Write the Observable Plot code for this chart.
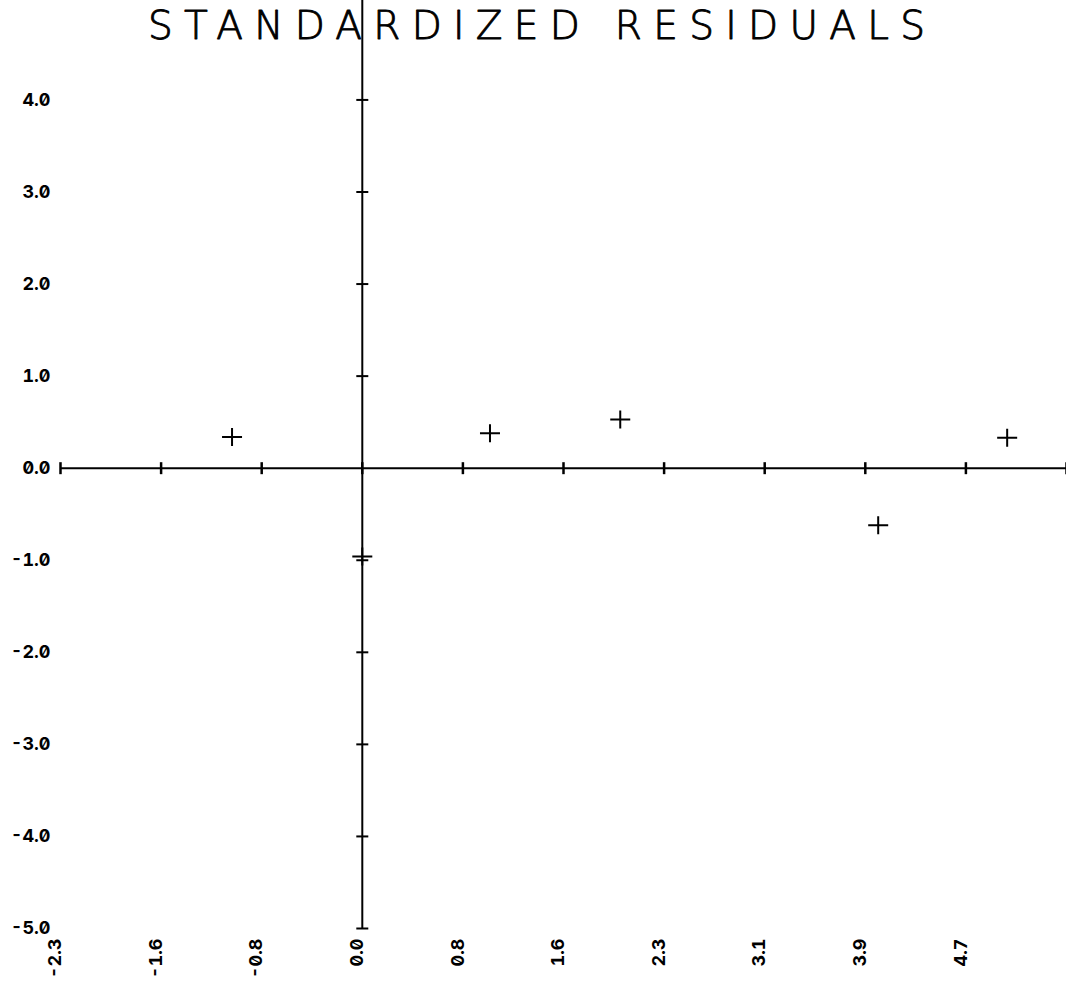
<!DOCTYPE html>
<html>
<head>
<meta charset="utf-8">
<script src="https://cdn.jsdelivr.net/npm/d3@7"></script>
<script src="https://cdn.jsdelivr.net/npm/@observablehq/plot@0.6"></script>
<style>
  html, body { margin: 0; padding: 0; background: #fff; }
  #chart svg { display: block; }
</style>
</head>
<body>
<div id="chart"></div>
<script>
const title = "STANDARDIZED RESIDUALS";

// residual points
const px = [-1.01, 0.99, 2.0, 4.0, 5.0, 0.0];
const py = [0.34, 0.38, 0.53, -0.62, 0.33, -0.96];

// x axis ticks (on y = 0 line) and labels
const xTickVals = [-2.34, -1.56, -0.78, 0, 0.78, 1.56, 2.34, 3.12, 3.90, 4.68, 5.46];
const xLabelVals = [-2.34, -1.56, -0.78, 0, 0.78, 1.56, 2.34, 3.12, 3.90, 4.68];
const xLabels = ["-2.3", "-1.6", "-0.8", "0.0", "0.8", "1.6", "2.3", "3.1", "3.9", "4.7"];

// y axis ticks (on x = 0 line) and labels
const yTickVals = [4, 3, 2, 1, -1, -2, -3, -4, -5];
const yLabelVals = [4, 3, 2, 1, 0, -1, -2, -3, -4, -5];
const yLabels = ["4.0", "3.0", "2.0", "1.0", "0.0", "-1.0", "-2.0", "-3.0", "-4.0", "-5.0"];

const points = px.map((x, i) => ({x, y: py[i]}));

const vTick = {draw(ctx) { ctx.moveTo(0, -6); ctx.lineTo(0, 6); }};
const hTick = {draw(ctx) { ctx.moveTo(-6, 0); ctx.lineTo(6, 0); }};
const cross = {draw(ctx) { ctx.moveTo(-10, 0); ctx.lineTo(10, 0); ctx.moveTo(0, -9); ctx.lineTo(0, 9); }};

const labelFont = {fontFamily: "Inter", fontWeight: 700, fontSize: 18};

const chart = Plot.plot({
  width: 1066,
  height: 986,
  marginLeft: 60,
  marginRight: 0,
  marginTop: 0,
  marginBottom: 58,
  x: {domain: [-2.34, 5.46], axis: null},
  y: {domain: [-5, 5.08], axis: null},
  style: {background: "#fff", color: "#000"},
  marks: [
    Plot.ruleY([0], {stroke: "#000", strokeWidth: 2}),
    Plot.ruleX([0], {y1: -5, y2: 5.08, stroke: "#000", strokeWidth: 2}),
    Plot.dot(xTickVals, {x: d => d, y: () => 0, symbol: vTick, fill: "none", stroke: "#000", strokeWidth: 2.5}),
    Plot.dot(yTickVals, {x: () => 0, y: d => d, symbol: hTick, fill: "none", stroke: "#000", strokeWidth: 2}),
    Plot.dot(points, {x: "x", y: "y", symbol: cross, fill: "none", stroke: "#000", strokeWidth: 2}),
    Plot.text(xLabelVals, {
      x: d => d, frameAnchor: "bottom", text: (d, i) => xLabels[i],
      rotate: -90, textAnchor: "end", lineAnchor: "middle", dx: -5, dy: 10,
      ...labelFont
    }),
    Plot.text(yLabelVals, {
      y: d => d, frameAnchor: "left", text: (d, i) => yLabels[i],
      textAnchor: "end", dx: -10, ...labelFont
    }),
    Plot.text([title], {
      frameAnchor: "top", lineAnchor: "top", dx: -27, dy: 11,
      fontFamily: "DejaVu Sans", fontWeight: 200, fontSize: 39,
      stroke: "#000", strokeWidth: 0.9, fill: "#000",
      className: "title-text"
    })
  ]
});

chart.querySelectorAll("text").forEach(t => {
  if (t.closest(".title-text") == null) t.style.fontFeatureSettings = "'zero' 1, 'tnum' 1";
});
const tt = chart.querySelector(".title-text text");
if (tt) { tt.setAttribute("textLength", 777); tt.setAttribute("lengthAdjust", "spacing"); }

document.getElementById("chart").appendChild(chart);
</script>
</body>
</html>
